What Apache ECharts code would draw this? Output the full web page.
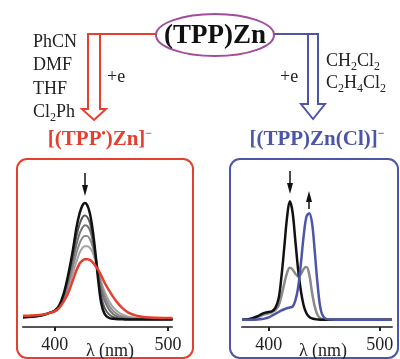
<!DOCTYPE html>
<html>
<head>
<meta charset="utf-8">
<script src="https://cdn.jsdelivr.net/npm/echarts@6/dist/echarts.min.js"></script>
<style>html,body{margin:0;padding:0;background:#fff;}#c{width:400px;height:359px;}</style>
</head>
<body>
<div id="c"></div>
<script>
// ---- Left panel: reduction to [(TPP•)Zn]- ----
const leftWl    = [372, 380, 390, 396, 400, 404, 408, 412, 416, 419, 422, 424.5, 426.5, 428.5, 431, 433.5, 436, 438.5, 441, 444, 448, 452, 456, 460, 465, 472, 480, 490, 504];
const leftBlack = [0.02, 0.025, 0.04, 0.06, 0.075, 0.12, 0.22, 0.38, 0.58, 0.76, 0.89, 0.955, 0.975, 0.96, 0.89, 0.75, 0.55, 0.32, 0.14, 0.05, 0.015, 0.008, 0.005, 0.004, 0.003, 0.003, 0.003, 0.003, 0.003];
const leftGray1 = [0.022, 0.027, 0.04, 0.06, 0.075, 0.115, 0.21, 0.36, 0.54, 0.69, 0.8, 0.855, 0.87, 0.86, 0.81, 0.7, 0.53, 0.35, 0.2, 0.1, 0.045, 0.022, 0.012, 0.008, 0.005, 0.004, 0.004, 0.004, 0.004];
const leftGray2 = [0.024, 0.029, 0.041, 0.06, 0.074, 0.11, 0.195, 0.33, 0.49, 0.62, 0.72, 0.77, 0.79, 0.785, 0.75, 0.66, 0.53, 0.39, 0.26, 0.16, 0.085, 0.045, 0.025, 0.015, 0.009, 0.006, 0.005, 0.005, 0.005];
const leftGray3 = [0.026, 0.031, 0.042, 0.059, 0.072, 0.105, 0.18, 0.3, 0.44, 0.55, 0.64, 0.685, 0.7, 0.7, 0.675, 0.61, 0.51, 0.4, 0.29, 0.2, 0.12, 0.07, 0.042, 0.026, 0.016, 0.01, 0.008, 0.007, 0.007];
const leftGray4 = [0.028, 0.033, 0.043, 0.058, 0.07, 0.1, 0.165, 0.27, 0.39, 0.48, 0.56, 0.6, 0.615, 0.615, 0.6, 0.56, 0.49, 0.41, 0.32, 0.235, 0.155, 0.1, 0.065, 0.042, 0.026, 0.016, 0.011, 0.009, 0.009];
const leftRed   = [0.033, 0.036, 0.045, 0.058, 0.07, 0.1, 0.155, 0.225, 0.33, 0.41, 0.47, 0.495, 0.505, 0.506, 0.5, 0.48, 0.45, 0.415, 0.37, 0.31, 0.245, 0.185, 0.135, 0.095, 0.06, 0.035, 0.022, 0.017, 0.015];

// ---- Right panel: reduction to [(TPP)Zn(Cl)]- ----
const rightWl    = [376, 384, 390, 394, 397, 400, 403, 406, 409, 411.5, 414, 416.5, 419, 421.5, 424, 426.5, 429, 431.5, 434, 436.5, 439, 441.5, 444, 447, 451, 456, 465, 480, 495, 511];
const rightBlack = [0, 0.01, 0.03, 0.05, 0.06, 0.065, 0.072, 0.1, 0.18, 0.36, 0.6, 0.85, 0.99, 0.9, 0.66, 0.42, 0.24, 0.12, 0.055, 0.025, 0.012, 0.006, 0.003, 0, 0, 0, 0, 0, 0, 0];
const rightGray  = [0, 0.008, 0.022, 0.038, 0.047, 0.055, 0.065, 0.082, 0.12, 0.2, 0.3, 0.39, 0.435, 0.42, 0.385, 0.365, 0.38, 0.425, 0.44, 0.38, 0.23, 0.11, 0.04, 0.01, 0.002, 0, 0, 0, 0, 0];
const rightBlue  = [0, 0, 0.002, 0.006, 0.012, 0.02, 0.035, 0.05, 0.065, 0.078, 0.088, 0.097, 0.103, 0.11, 0.16, 0.27, 0.47, 0.7, 0.86, 0.89, 0.81, 0.57, 0.3, 0.08, 0.01, 0.002, 0, 0, 0, 0];

const tickValues = [400, 500];
const axisTitle = 'λ (nm)';

const FONT = '"Liberation Serif", "Times New Roman", serif';
const RED = '#e5402f';
const BLUE = '#4d55a8';
const PURPLE = '#a24d9b';

function pairs(xs, ys) { return xs.map((x, i) => [x, ys[i]]); }
function line(name, xi, xs, ys, color, width, z) {
  return {
    name, type: 'line', xAxisIndex: xi, yAxisIndex: xi,
    data: pairs(xs, ys), smooth: 0.35, showSymbol: false, symbol: 'none',
    lineStyle: { color, width }, itemStyle: { color }, z: z || 2, animation: false
  };
}
function xAxisCfg(gi, min, max, padLeft) {
  return {
    type: 'value', gridIndex: gi, min, max,
    splitLine: { show: false },
    axisLine: { show: true, onZero: false, lineStyle: { color: '#555', width: 2 } },
    axisTick: { show: true, customValues: tickValues, length: 4, inside: false, lineStyle: { color: '#222', width: 2 } },
    axisLabel: { customValues: tickValues, fontSize: 18, fontFamily: FONT, color: '#222', margin: 9 },
    name: axisTitle, nameLocation: 'middle', nameGap: 15, nameMoveOverlap: false,
    nameTextStyle: { fontSize: 18, fontFamily: FONT, color: '#222', padding: [0, 0, 0, padLeft] }
  };
}
function yAxisCfg(gi) {
  return { type: 'value', gridIndex: gi, min: -0.06, max: 1, show: false, splitLine: { show: false } };
}
const subRich = {
  a: { fontSize: 18, fontFamily: FONT, fill: '#222', lineHeight: 24 },
  s: { fontSize: 12, fontFamily: FONT, fill: '#222', verticalAlign: 'bottom' }
};
function txt(x, y, text, extra) {
  return { type: 'text', x, y, z: 10, style: Object.assign({ text, font: '18px ' + FONT, fill: '#222', textVerticalAlign: 'middle' }, extra || {}) };
}
function rich(x, y, text, richStyles, align) {
  return { type: 'text', x, y, z: 10, style: { text, rich: richStyles, textAlign: align || 'left', textVerticalAlign: 'middle' } };
}
function arrowDown(x, y0, y1) {
  return [
    { type: 'line', z: 10, shape: { x1: x, y1: y0, x2: x, y2: y1 - 8 }, style: { stroke: '#111', lineWidth: 1.5 } },
    { type: 'polygon', z: 10, shape: { points: [[x - 3, y1 - 11], [x + 3, y1 - 11], [x, y1]] }, style: { fill: '#111' } }
  ];
}
function arrowUp(x, y0, y1) { // y0 bottom, y1 tip
  return [
    { type: 'line', z: 10, shape: { x1: x, y1: y0, x2: x, y2: y1 + 8 }, style: { stroke: '#111', lineWidth: 1.5 } },
    { type: 'polygon', z: 10, shape: { points: [[x - 3, y1 + 11], [x + 3, y1 + 11], [x, y1]] }, style: { fill: '#111' } }
  ];
}

const titleRichL = {
  b: { fontSize: 21, fontWeight: 'bold', fontFamily: FONT, fill: RED, lineHeight: 24 },
  p: { fontSize: 12, fontWeight: 'bold', fontFamily: FONT, fill: RED, verticalAlign: 'top' }
};
const titleRichR = {
  b: { fontSize: 21, fontWeight: 'bold', fontFamily: FONT, fill: BLUE, lineHeight: 24 },
  p: { fontSize: 12, fontWeight: 'bold', fontFamily: FONT, fill: BLUE, verticalAlign: 'top' }
};

const graphics = [
  // panel boxes
  { type: 'rect', z: 0, shape: { x: 17, y: 159, width: 176, height: 199, r: 10 }, style: { fill: 'none', stroke: RED, lineWidth: 2 } },
  { type: 'rect', z: 0, shape: { x: 230, y: 159, width: 168, height: 199, r: 10 }, style: { fill: 'none', stroke: BLUE, lineWidth: 2 } },
  // ellipse & central label
  { type: 'ellipse', z: 5, shape: { cx: 215, cy: 35, rx: 59, ry: 21 }, style: { fill: '#fff', stroke: PURPLE, lineWidth: 2 } },
  txt(215, 36, '(TPP)Zn', { font: 'bold 27px ' + FONT, fill: '#111', textAlign: 'center' }),
  // red hollow arrow
  { type: 'polyline', z: 4, shape: { points: [[156, 34], [88, 34], [88, 109], [82, 109], [94, 120], [106, 109], [100, 109], [100, 34]] }, style: { stroke: RED, lineWidth: 2, fill: 'none' } },
  // blue hollow arrow
  { type: 'polyline', z: 4, shape: { points: [[274, 34], [318, 34], [318, 104], [325, 104], [313, 119], [301, 104], [308, 104], [308, 34]] }, style: { stroke: BLUE, lineWidth: 2, fill: 'none' } },
  // solvents
  txt(33, 42, 'PhCN'),
  txt(33, 65, 'DMF'),
  txt(33, 89, 'THF'),
  rich(33, 112, '{a|Cl}{s|2}{a|Ph}', subRich),
  txt(107, 77, '+e'),
  txt(280, 77, '+e'),
  rich(326, 61, '{a|CH}{s|2}{a|Cl}{s|2}', subRich),
  rich(326, 83, '{a|C}{s|2}{a|H}{s|4}{a|Cl}{s|2}', subRich),
  // titles
  rich(100, 140, '{b|[(TPP}{p|•}{b|)Zn]}{p|−}', titleRichL, 'center'),
  rich(317, 140, '{b|[(TPP)Zn(Cl)]}{p|−}', titleRichR, 'center')
].concat(arrowDown(85, 173, 196), arrowDown(290, 171, 194), arrowUp(309, 209, 191));

const chart = echarts.init(document.getElementById('c'), null, { renderer: 'canvas' });
chart.setOption({
  backgroundColor: '#fff',
  animation: false,
  grid: [
    { left: 23, top: 200, width: 149, height: 127, containLabel: false, outerBoundsMode: 'none' },
    { left: 242, top: 200, width: 150, height: 127, containLabel: false, outerBoundsMode: 'none' }
  ],
  xAxis: [xAxisCfg(0, 372, 503.5, 25), xAxisCfg(1, 376, 511, 12)],
  yAxis: [yAxisCfg(0), yAxisCfg(1)],
  series: [
    line('g4', 0, leftWl, leftGray4, '#a3a3a3', 2, 2),
    line('g3', 0, leftWl, leftGray3, '#8c8c8c', 2, 3),
    line('g2', 0, leftWl, leftGray2, '#747474', 2, 4),
    line('g1', 0, leftWl, leftGray1, '#5a5a5a', 2, 5),
    line('black', 0, leftWl, leftBlack, '#111', 2.5, 6),
    line('red', 0, leftWl, leftRed, RED, 2.5, 7),
    line('rgray', 1, rightWl, rightGray, '#8a8a8a', 2.5, 3),
    line('rblack', 1, rightWl, rightBlack, '#111', 2.5, 4),
    line('rblue', 1, rightWl, rightBlue, BLUE, 2.5, 5)
  ],
  graphic: graphics
});
</script>
</body>
</html>
